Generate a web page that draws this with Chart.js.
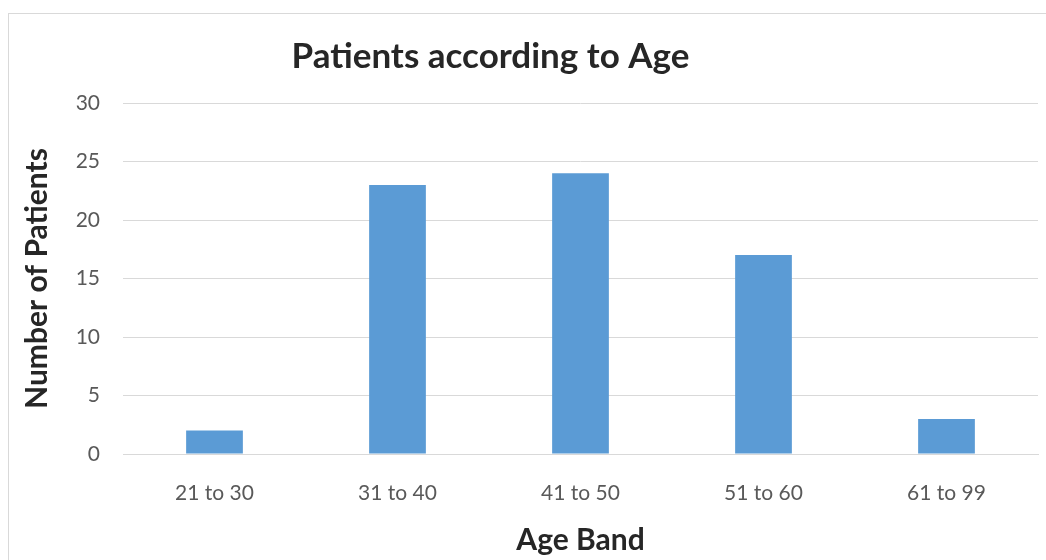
<!DOCTYPE html>
<html lang="en">
<head>
  <meta charset="UTF-8">
  <title>Patients according to Age</title>
  <style>
    body { margin: 0; background: #fff; }
    .frame { position: absolute; left: 8px; top: 13px; width: 1037px; height: 546px; border-left: 1px solid #d9d9d9; border-top: 1px solid #d9d9d9; }
  </style>
  <script src="https://cdn.jsdelivr.net/npm/chart.js"></script>
</head>
<body>
  <div class="frame"><canvas id="chart"></canvas></div>

  <script>
    // data
    const ageBands = ['21 to 30', '31 to 40', '41 to 50', '51 to 60', '61 to 99'];
    const patients = [2, 23, 24, 17, 3];

    const tickColor = '#595959';
    const gridColor = '#d9d9d9';

    // Excel centres the title a bit left of the canvas middle
    const shiftTitle = {
      id: 'shiftTitle',
      afterLayout(chart) {
        const t = chart.titleBlock;
        if (t) { t.left -= 33; t.right -= 33; }
      }
    };

    new Chart(document.getElementById('chart'), {
      type: 'bar',
      data: {
        labels: ageBands,
        datasets: [{
          label: 'Patients',
          data: patients,
          backgroundColor: '#5b9bd5',
          categoryPercentage: 1,
          barPercentage: 0.31
        }]
      },
      options: {
        responsive: true,
        maintainAspectRatio: false,
        animation: false,
        layout: { padding: { left: 0, right: 8, top: 0, bottom: 0 } },
        plugins: {
          legend: { display: false },
          tooltip: { enabled: false },
          title: {
            display: true,
            text: 'Patients according to Age',
            color: '#262626',
            font: { family: 'Lato', size: 35, weight: 'bold', lineHeight: 1.2 },
            padding: { top: 22, bottom: 25 }
          }
        },
        scales: {
          x: {
            afterFit(s) { s.height = 106; },
            grid: { display: false, drawTicks: false },
            border: { display: true, color: gridColor, width: 1 },
            ticks: { color: tickColor, padding: 27, font: { family: 'Lato', size: 21 } },
            title: {
              display: true,
              text: 'Age Band',
              color: '#262626',
              font: { family: 'Lato', size: 30, weight: 'bold', lineHeight: 1.2 },
              padding: { top: 0, bottom: 2 }
            }
          },
          y: {
            min: 0,
            max: 30,
            afterFit(s) { s.width = 114; },
            grid: { color: gridColor, drawTicks: false },
            border: { display: false },
            ticks: { stepSize: 5, color: tickColor, padding: 23, font: { family: 'Lato', size: 21 } },
            title: {
              display: true,
              text: 'Number of Patients',
              color: '#262626',
              font: { family: 'Lato', size: 30, weight: 'bold', lineHeight: 1.2 },
              padding: { top: 10, bottom: 0 }
            }
          }
        }
      },
      plugins: [shiftTitle]
    });
  </script>
</body>
</html>
